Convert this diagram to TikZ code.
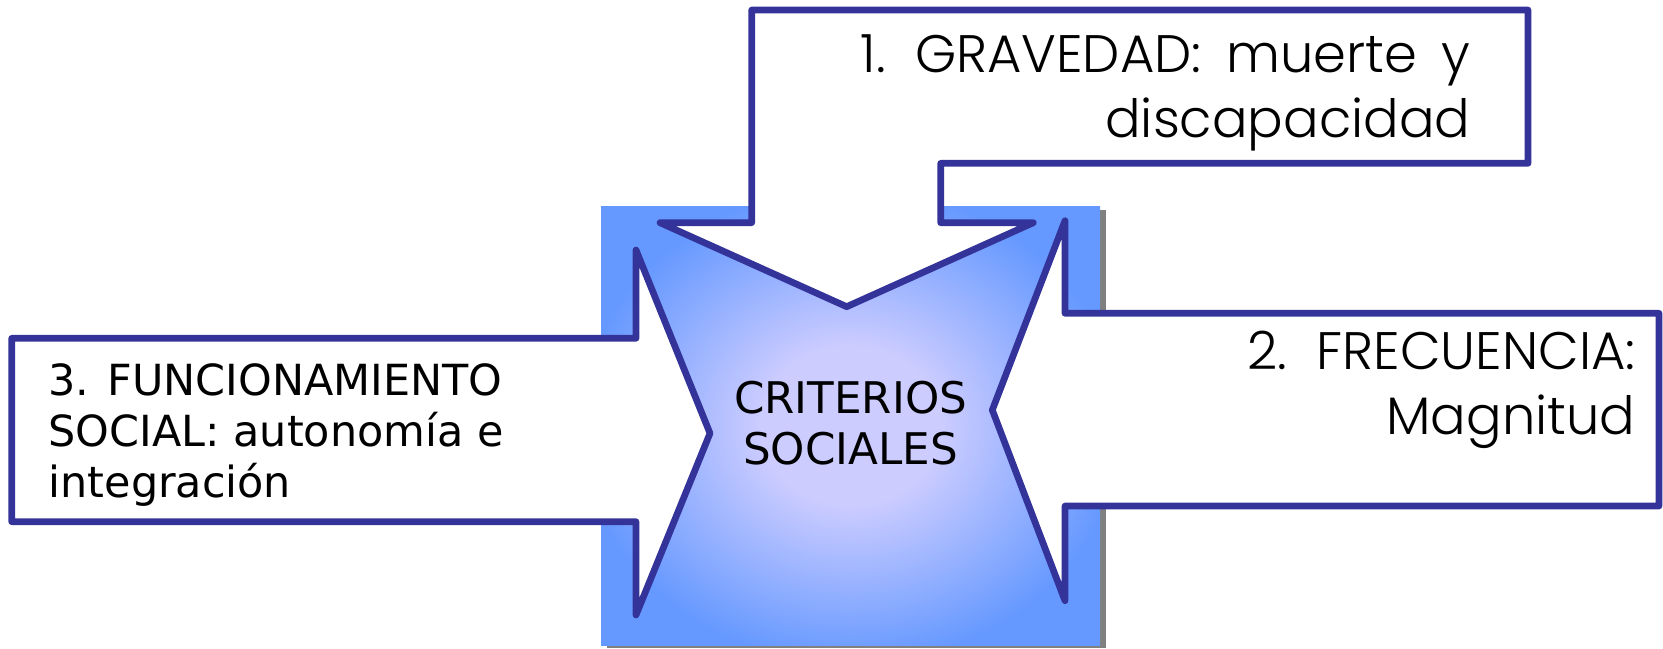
\documentclass[tikz,border=0pt]{standalone}
\usepackage{fontspec}
\setmainfont{DejaVu Sans}
\newfontfamily\geofont{Poppins}[UprightFont=* Light, WordSpace=1.7]
\usetikzlibrary{positioning}
\definecolor{arrowblue}{HTML}{333399}
\definecolor{boxedge}{HTML}{6699FF}
\definecolor{boxglow}{HTML}{CCCCFF}
\definecolor{boxshadow}{HTML}{808080}
\pgfdeclareradialshading{boxglowshade}{\pgfpoint{0bp}{0bp}}{color(0bp)=(boxglow); color(9bp)=(boxglow); color(27bp)=(boxedge); color(50bp)=(boxedge)}

\begin{document}
\begin{tikzpicture}[
    x=0.01cm, y=-0.01cm,
    callout/.style={draw=arrowblue, line width=1.9pt, line join=round, fill=white},
    critlabel/.style={inner sep=0pt, align=center, font=\fontsize{12.4}{14.6}\selectfont},
    sidelabel/.style={inner sep=0pt, align=left, font=\fontsize{12.2}{14.4}\selectfont},
    geolabel/.style={inner sep=0pt, align=right, font=\geofont\fontsize{15}{18.4}\selectfont}
]
\useasboundingbox (0,0) rectangle (1663,648);

% central square
\fill[boxshadow] (607,210) rectangle (1106,648);
\shade[shading=boxglowshade] (601,206) rectangle (1100,645);

% callout arrows
\draw[callout] (751.7,10) -- (1528,10) -- (1528,163.3) -- (940.7,163.3) -- (940.7,222.7)
    -- (1033.3,222.7) -- (846.7,306.7) -- (660,222.7) -- (751.7,222.7) -- cycle;
\draw[callout] (1659,313.3) -- (1659,506) -- (1065,506) -- (1065,600.7) -- (992.3,410)
    -- (1065,220.7) -- (1065,313.3) -- cycle;
\draw[callout] (11.7,338.3) -- (636,338.3) -- (636,250) -- (710,433.3) -- (636,615)
    -- (636,521.7) -- (11.7,521.7) -- cycle;

\node[critlabel] (crit) at (850.5,423) {CRITERIOS\\SOCIALES};
\node[geolabel, anchor=east] (grav) at (1471,93) {1. GRAVEDAD: muerte y\\discapacidad};
\node[geolabel, anchor=east] (frec) at (1636,390) {2. FRECUENCIA:\\Magnitud};
\node[sidelabel, anchor=west] (func) at (48,435) {3. FUNCIONAMIENTO\\SOCIAL: autonomía e\\integración};
\end{tikzpicture}
\end{document}
